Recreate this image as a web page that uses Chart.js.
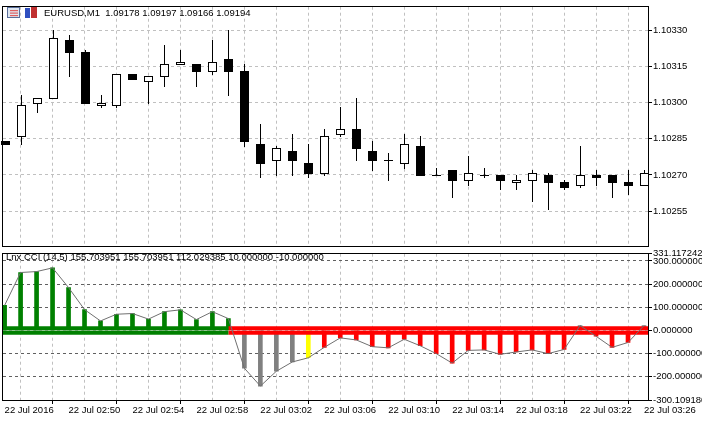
<!DOCTYPE html>
<html><head><meta charset="utf-8">
<script src="https://cdn.jsdelivr.net/npm/chart.js@4.4.0/dist/chart.umd.min.js"></script>
<style>
html,body{margin:0;padding:0;background:#fff;width:702px;height:423px;overflow:hidden}
#c1{position:absolute;left:0;top:0}
#c2{position:absolute;left:0;top:247px}
</style></head><body>
<canvas id="c1" width="702" height="252"></canvas>
<canvas id="c2" width="702" height="176"></canvas>
<script>
const TIME_LABELS = ["22 Jul 2016","22 Jul 02:50","22 Jul 02:54","22 Jul 02:58","22 Jul 03:02","22 Jul 03:06","22 Jul 03:10","22 Jul 03:14","22 Jul 03:18","22 Jul 03:22","22 Jul 03:26"];
const OPEN  = [1.10284,1.10286,1.10300,1.10302,1.10326,1.10321,1.10299,1.10299,1.10312,1.10309,1.10311,1.10316,1.10316,1.10313,1.10318,1.10313,1.10283,1.10276,1.10280,1.10275,1.10271,1.10287,1.10289,1.10280,1.10276,1.10275,1.10282,1.10270,1.10272,1.10268,1.10270,1.10270,1.10267,1.10268,1.10270,1.10267,1.10266,1.10270,1.10270,1.10267,1.10266];
const HIGH  = [1.10284,1.10303,1.10302,1.10330,1.10328,1.10322,1.10303,1.10312,1.10312,1.10311,1.10324,1.10322,1.10316,1.10326,1.10330,1.10316,1.10291,1.10282,1.10287,1.10283,1.10289,1.10298,1.10302,1.10284,1.10279,1.10287,1.10286,1.10273,1.10272,1.10278,1.10273,1.10270,1.10270,1.10272,1.10271,1.10268,1.10282,1.10272,1.10270,1.10272,1.10272];
const LOW   = [1.10283,1.10283,1.10296,1.10302,1.10311,1.10300,1.10298,1.10298,1.10310,1.10300,1.10307,1.10316,1.10307,1.10312,1.10303,1.10282,1.10269,1.10270,1.10270,1.10269,1.10270,1.10286,1.10276,1.10272,1.10268,1.10273,1.10270,1.10270,1.10261,1.10266,1.10269,1.10264,1.10264,1.10259,1.10256,1.10264,1.10265,1.10266,1.10261,1.10262,1.10266];
const CLOSE = [1.10283,1.10299,1.10302,1.10327,1.10321,1.10300,1.10300,1.10312,1.10310,1.10311,1.10316,1.10317,1.10313,1.10317,1.10313,1.10284,1.10275,1.10281,1.10276,1.10271,1.10286,1.10289,1.10281,1.10276,1.10276,1.10283,1.10270,1.10270,1.10268,1.10271,1.10270,1.10268,1.10268,1.10271,1.10267,1.10265,1.10270,1.10269,1.10267,1.10266,1.10271];
const PRICE_TICKS = [1.10255,1.10270,1.10285,1.10300,1.10315,1.10330];
const CCI = [108,250,254,270,185,90,41,70,73,49,81,89,47,81,51,-163,-240,-176,-136,-118,-73,-32,-41,-70,-75,-38,-66,-100,-141,-86,-84,-103,-93,-84,-100,-82,21,-25,-73,-52,21];
const CCI_TICKS = [-300.10918,-200,-100,0,100,200,300,331.117242];
const LEVEL = 10;

const N = OPEN.length;
const XMIN = -0.1, XMAX = 40.25;
const FONT = {family:"Liberation Sans", size:9.5};
const frame = {id:'frame', afterDraw(c){const a=c.chartArea,x=c.ctx;x.save();x.strokeStyle='#000';x.lineWidth=1;x.strokeRect(Math.round(a.left)-0.5,Math.round(a.top)-0.5,Math.round(a.right-a.left)+1,Math.round(a.bottom-a.top)+1);x.restore();}};
function xScale(showLabels){
  return {type:'linear',min:XMIN,max:XMAX,offset:false,
    afterBuildTicks(s){s.ticks=[];for(let i=0;i<N;i+=2)s.ticks.push({value:i});},
    afterFit(s){ s.height = showLabels ? 23 : 0; },
    ticks:{display:showLabels,autoSkip:false,maxRotation:0,align:'start',padding:1,color:'#000',font:FONT,
      callback:(v)=> (v%4===0)?TIME_LABELS[v/4]:''},
    border:{display:false,dash:[3,3]},
    grid:{color:'#c0c0c0',drawTicks:showLabels,tickLength:4,
      tickColor:(ctx)=> (ctx.tick && ctx.tick.value%4===0)?'#000':'rgba(0,0,0,0)'}};
}
const candles = {id:'candles', afterDatasetsDraw(c){
  const xs=c.scales.x, ys=c.scales.y, g=c.ctx; g.save(); g.lineWidth=1; g.strokeStyle='#000';
  for(let i=0;i<N;i++){
    const x=Math.round(xs.getPixelForValue(i))+0.5;
    const yo=Math.round(ys.getPixelForValue(OPEN[i])), yc=Math.round(ys.getPixelForValue(CLOSE[i]));
    const yh=Math.round(ys.getPixelForValue(HIGH[i])), yl=Math.round(ys.getPixelForValue(LOW[i]));
    g.beginPath(); g.moveTo(x,yh); g.lineTo(x,yl+1); g.stroke();
    const t=Math.min(yo,yc), b=Math.max(yo,yc);
    if(b===t){ g.beginPath(); g.moveTo(x-4.5,t+0.5); g.lineTo(x+4.5,t+0.5); g.stroke(); continue; }
    g.fillStyle = CLOSE[i]>OPEN[i] ? '#fff' : '#000';
    g.fillRect(x-4.5,t+0.5,9,b-t); g.strokeRect(x-4,t+0.5,8,b-t);
  }
  g.fillStyle='#dfe6f0'; g.fillRect(7,7,13,11); g.strokeStyle='#5a6f9a'; g.strokeRect(7.5,7.5,12,10);
  g.fillStyle='#e06060'; for(let k=0;k<3;k++) g.fillRect(10,10+k*2.5,8,1.2);
  g.fillStyle='#3050c0'; g.fillRect(25,8,5,10); g.fillStyle='#c03030'; g.fillRect(31,6,6,12);
  g.fillStyle='#000'; g.font='9.5px "Liberation Sans"'; g.textBaseline='middle';
  g.fillText('EURUSD,M1  1.09178 1.09197 1.09166 1.09194',44,13);
  g.restore();
}};
new Chart(document.getElementById('c1'),{type:'bar',data:{datasets:[]},
  options:{responsive:false,animation:false,events:[],
    layout:{padding:{top:3,left:3,right:0,bottom:0}},
    plugins:{legend:{display:false},tooltip:{enabled:false}},
    scales:{x:xScale(false),
      y:{position:'right',min:1.102408,max:1.103398,
        afterBuildTicks(s){s.ticks=PRICE_TICKS.map(v=>({value:v}));},
        afterFit(s){s.width=54;},
        ticks:{color:'#000',font:FONT,padding:1,callback:v=>v.toFixed(5)},
        border:{display:false,dash:[3,3]},
        grid:{color:'#c0c0c0',tickLength:4,tickColor:'#000'}}}},
  plugins:[frame,candles]});

const barColors = CCI.map((v,i)=> v>0 ? (i===36||i===40?'#808080':'#008000') : (i>=15&&i<=18?'#808080':(i===19?'#ffff00':'#ff0000')));
const pts = CCI.map((v,i)=>({x:i,y:v}));
const cciTitle = {id:'cciTitle', afterDraw(c){const g=c.ctx;g.save();g.fillStyle='#000';g.font='9.5px "Liberation Sans"';g.textBaseline='middle';
  g.fillText('Lnx CCI (14,5) 155.703951 155.703951 112.029385 10.000000 -10.000000',6,10);g.restore();}};
new Chart(document.getElementById('c2'),{type:'bar',
  data:{datasets:[
    {type:'line',data:[{x:XMIN,y:LEVEL},{x:14,y:LEVEL}],borderColor:'#008000',borderWidth:4,pointRadius:0,order:1},
    {type:'line',data:[{x:XMIN,y:-LEVEL},{x:14,y:-LEVEL}],borderColor:'#008000',borderWidth:4,pointRadius:0,order:1},
    {type:'line',data:[{x:14,y:LEVEL},{x:XMAX,y:LEVEL}],borderColor:'#ff0000',borderWidth:4,pointRadius:0,order:1},
    {type:'line',data:[{x:14,y:-LEVEL},{x:XMAX,y:-LEVEL}],borderColor:'#ff0000',borderWidth:4,pointRadius:0,order:1},
    {type:'bar',data:pts,backgroundColor:barColors,barThickness:4,order:2},
    {type:'line',data:pts,borderColor:'#707070',borderWidth:1,pointRadius:0,tension:0,order:0}
  ]},
  options:{responsive:false,animation:false,events:[],
    layout:{padding:{top:2,left:3,right:0,bottom:0}},
    plugins:{legend:{display:false},tooltip:{enabled:false}},
    scales:{x:xScale(true),
      y:{position:'right',min:-300.10918,max:331.117242,
        afterBuildTicks(s){s.ticks=CCI_TICKS.map(v=>({value:v}));},
        afterFit(s){s.width=54;},
        ticks:{color:'#000',font:FONT,padding:1,callback:v=>v.toFixed(6)},
        border:{display:false,dash:[3,3]},
        grid:{color:(ctx)=>{const v=ctx.tick&&ctx.tick.value; if(v===0)return '#c0c0c0'; if(v===CCI_TICKS[0]||v===CCI_TICKS[7])return 'rgba(0,0,0,0)'; return '#606060';},
          tickLength:4,tickColor:'#000'}}}},
  plugins:[frame,cciTitle]});
</script></body></html>
